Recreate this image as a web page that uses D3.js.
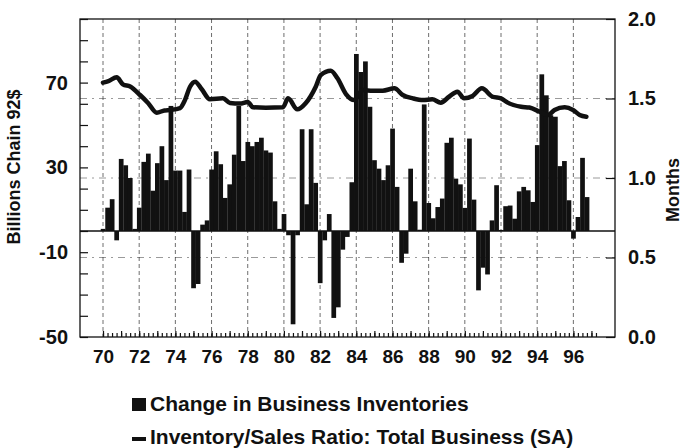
<!DOCTYPE html>
<html lang="en">
<head>
    <meta charset="UTF-8">
    <title>Business Inventories</title>
    <script src="https://d3js.org/d3.v7.min.js"></script>
    <style>
        body{
            margin: 0;
            background-color: #ffffff;
        }
        svg text{
            font-family: "Liberation Sans", Arial, sans-serif;
            font-weight: bold;
            fill: #111111;
        }
        .axis path{
            display: none;
        }
        .axis line{
            stroke: #111111;
            stroke-width: 1.2px;
        }
        .vgrid{
            stroke: #222222;
            stroke-width: 1px;
            stroke-dasharray: 4,3;
            opacity: .65;
        }
        .hgrid{
            stroke: #222222;
            stroke-width: 1px;
            stroke-dasharray: 7,5,2,5;
            opacity: .45;
        }
        .ratio{
            fill: none;
            stroke: #111111;
            stroke-width: 4.5px;
            stroke-linejoin: round;
            stroke-linecap: round;
        }
    </style>
</head>
<body>
<svg id="canvas" width="682" height="448"></svg>
<script>
    // quarterly change in business inventories, billions chain 92$ (Q1..Q4 per year)
    let years = [70,71,72,73,74,75,76,77,78,79,80,81,82,83,84,85,86,87,88,89,90,91,92,93,94,95,96]
    let invChange = [
        [1, 11, 15, -4.4],
        [34, 31, 25, 1],
        [11, 32.6, 36.5, 19],
        [32, 40, 24, 59],
        [28.5, 28.5, 9, 29],
        [-27, -25, 3, 5],
        [29, 37.6, 31.5, 15.6],
        [22, 36, 59, 33],
        [42, 40, 42, 44],
        [38, 37, 14, 1],
        [8, -2, -44, -2],
        [48, 12.6, 48, 22.7],
        [-24.6, -4.4, 8, -41],
        [-36, -8.8, -2.8, 23],
        [83.5, 75, 80, 58.6],
        [33.4, 29.4, 24, 31],
        [48.3, 20.8, -15, -10.7],
        [29.4, 14, 0.6, 59.7],
        [13.2, 6, 11.3, 15.3],
        [41.6, 44, 24.7, 22],
        [10.9, 43.6, 14.8, -28],
        [-17.3, -20.5, 5, 21.6],
        [0.5, 11.7, 12, 5.8],
        [18.7, 20.8, 19.2, 13.7],
        [40.5, 73.9, 64, 54.6],
        [53.9, 30.6, 33, 14.5],
        [-3.6, 6.6, 34.5, 16]
    ]
    // inventory/sales ratio, months
    let ratioDates = [70.0, 70.3, 70.76, 71.1, 71.5, 72.05, 72.49, 72.97, 73.4, 73.7, 74.26, 74.53, 74.81, 75.09,
        75.46, 75.91, 76.63, 77.02, 77.57, 78.0, 78.29, 79.0, 79.95, 80.23, 80.74, 81.2, 81.76, 82.04, 82.59,
        82.96, 83.43, 83.89, 84.35, 84.91, 85.46, 86.11, 86.57, 87.13, 87.69, 88.2, 88.67, 89.13, 89.59, 89.96,
        90.43, 90.94, 91.54, 92.0, 92.37, 93.11, 93.57, 94.13, 94.59, 94.96, 95.52, 95.98, 96.35, 96.72]
    let ratioMonths = [1.60, 1.61, 1.633, 1.589, 1.575, 1.522, 1.472, 1.411, 1.425, 1.428, 1.44, 1.49, 1.574, 1.606,
        1.558, 1.495, 1.501, 1.472, 1.468, 1.478, 1.445, 1.442, 1.445, 1.501, 1.432, 1.47, 1.574, 1.648, 1.675,
        1.627, 1.528, 1.49, 1.553, 1.549, 1.549, 1.564, 1.522, 1.501, 1.49, 1.495, 1.474, 1.511, 1.543, 1.501,
        1.516, 1.564, 1.511, 1.501, 1.474, 1.448, 1.443, 1.417, 1.396, 1.428, 1.445, 1.428, 1.396, 1.385]

    let leftLabels = [-50, -10, 30, 70]
    let rightLabels = [0, 0.5, 1, 1.5, 2]
    let xLabels = [70,72,74,76,78,80,82,84,86,88,90,92,94,96]

    let svg = d3.select('#canvas')
    let plot = {left: 80, right: 615, top: 19, bottom: 337}

    let x = d3.scaleLinear().domain([70, 97.5]).range([103, 600.5])
    let yL = d3.scaleLinear().domain([-50, 100]).range([plot.bottom, plot.top])
    let yR = d3.scaleLinear().domain([0, 2]).range([plot.bottom, plot.top])

    // grid
    svg.append('g').selectAll('line')
        .data(rightLabels.slice(1, 4))
        .enter().append('line')
        .attr('class', 'hgrid')
        .attr('x1', plot.left).attr('x2', plot.right)
        .attr('y1', d => yR(d)).attr('y2', d => yR(d))
    svg.append('g').selectAll('line')
        .data(xLabels)
        .enter().append('line')
        .attr('class', 'vgrid')
        .attr('x1', d => x(d)).attr('x2', d => x(d))
        .attr('y1', plot.top).attr('y2', plot.bottom)

    // bars
    let bars = []
    years.forEach(function (yr, i) {
        invChange[i].forEach(function (v, q) {
            bars.push({t: yr + q / 4, v: v})
        })
    })
    let bw = x(70.25) - x(70)
    svg.append('g').selectAll('rect')
        .data(bars)
        .enter().append('rect')
        .attr('x', d => x(d.t) - bw / 2)
        .attr('width', bw + 0.2)
        .attr('y', d => yL(Math.max(d.v, 0)))
        .attr('height', d => Math.abs(yL(d.v) - yL(0)))
        .attr('fill', '#111111')

    svg.append('line')
        .attr('x1', plot.left).attr('x2', plot.right)
        .attr('y1', yL(0)).attr('y2', yL(0))
        .attr('stroke', '#111111').attr('stroke-width', 1.5)

    // ratio line
    let lineGenerator = d3.line()
        .x((d, i) => x(ratioDates[i]))
        .y(d => yR(d))
        .curve(d3.curveMonotoneX)
    svg.append('path').attr('class', 'ratio').attr('d', lineGenerator(ratioMonths))

    // frame
    svg.append('rect')
        .attr('x', plot.left).attr('y', plot.top)
        .attr('width', plot.right - plot.left).attr('height', plot.bottom - plot.top)
        .attr('fill', 'none').attr('stroke', '#111111').attr('stroke-width', 1.3)

    // left axis
    svg.append('g').attr('class', 'axis')
        .attr('transform', `translate(${plot.left},0)`)
        .call(d3.axisRight(yL).tickValues(d3.range(-50, 101, 10)).tickSize(8).tickFormat(''))
    svg.append('g').attr('class', 'axis')
        .attr('transform', `translate(${plot.left},0)`)
        .call(d3.axisLeft(yL).tickValues(leftLabels).tickSize(0).tickPadding(12).tickFormat(d => String(d)))
        .selectAll('text').style('font-size', '20px')

    // right axis
    svg.append('g').attr('class', 'axis')
        .attr('transform', `translate(${plot.right},0)`)
        .call(d3.axisLeft(yR).tickValues(rightLabels).tickSize(9).tickFormat(''))
    svg.append('g').attr('class', 'axis')
        .attr('transform', `translate(${plot.right},0)`)
        .call(d3.axisRight(yR).tickValues(rightLabels).tickSize(0).tickPadding(13).tickFormat(d3.format('.1f')))
        .selectAll('text').style('font-size', '20px')

    // bottom axis: quarterly ticks, taller each year
    let qTicks = d3.range(70, 97.3, 0.25)
    svg.append('g').attr('class', 'axis')
        .attr('transform', `translate(0,${plot.bottom})`)
        .call(d3.axisTop(x).tickValues(qTicks).tickSize(4).tickFormat(''))
    svg.append('g').attr('class', 'axis')
        .attr('transform', `translate(0,${plot.bottom})`)
        .call(d3.axisTop(x).tickValues(d3.range(70, 98, 1)).tickSize(6).tickFormat(''))
    svg.append('g').attr('class', 'axis')
        .attr('transform', `translate(0,${plot.bottom})`)
        .call(d3.axisBottom(x).tickValues(xLabels).tickSize(0).tickPadding(13))
        .selectAll('text').style('font-size', '19px')

    // axis titles
    svg.append('text')
        .attr('transform', 'translate(20,167) rotate(-90)')
        .attr('text-anchor', 'middle')
        .style('font-size', '18px')
        .text('Billions Chain 92$')
    svg.append('text')
        .attr('transform', 'translate(679,190) rotate(-90)')
        .attr('text-anchor', 'middle')
        .style('font-size', '18px')
        .text('Months')

    // legend
    let legend = svg.append('g')
    legend.append('rect').attr('x', 132).attr('y', 398).attr('width', 14).attr('height', 13).attr('fill', '#111111')
    legend.append('text').attr('x', 150).attr('y', 411).style('font-size', '21px')
        .text('Change in Business Inventories')
    legend.append('rect').attr('x', 132).attr('y', 437).attr('width', 14).attr('height', 4).attr('fill', '#111111')
    legend.append('text').attr('x', 150).attr('y', 444).style('font-size', '21px')
        .text('Inventory/Sales Ratio: Total Business (SA)')
</script>
</body>
</html>
